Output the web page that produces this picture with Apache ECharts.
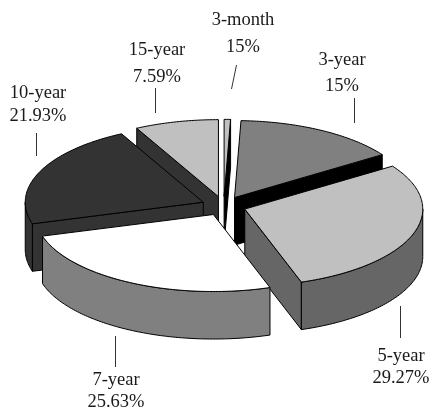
<!DOCTYPE html>
<html>

<head>
    <meta charset="utf-8">
    <script type="text/javascript" src="https://cdn.jsdelivr.net/npm/echarts@6/dist/echarts.min.js"></script>
    <title>Maturity pie</title>
    <style>
        html, body { margin: 0; padding: 0; background: #fff; }
    </style>
</head>

<body>
    <div id="container" style="width:429px;height:409px;"></div>
    <script type="text/javascript">
    // clockwise from 12 o'clock
    var categories = ['3-month', '3-year', '5-year', '7-year', '10-year', '15-year'];
    var shares = [0.58, 15, 29.27, 25.63, 21.93, 7.59];
    // printed labels, the 3-month one really says 15% in the source
    var percentLabels = ['15%', '15%', '29.27%', '25.63%', '21.93%', '7.59%'];

    var topColors = ['#c0c0c0', '#808080', '#c0c0c0', '#ffffff', '#333333', '#c0c0c0'];
    var rimColors = ['#000000', '#000000', '#666666', '#808080', '#333333', '#333333'];
    // back to front
    var drawOrder = [5, 0, 1, 4, 2, 3];

    // pie geometry in pixels
    var cx = 223.7, cy = 206, rx = 178, ry = 77, depth = 47.5, explodeX = 0.125, explodeY = 0.125;

    // label placement: [x, name y, percent y], leader: [x1, y1, x2, y2]
    var labelPos = [[243, 20, 47], [342, 60, 86], [401, 356, 378], [116, 380, 402], [38, 93, 116], [157, 50, 77]];
    var leaders = [[236, 65, 231, 89], [354, 98, 354, 123], [400, 306, 400, 338], [115, 336, 115, 367], [36, 133, 36, 156], [155, 88, 155, 113]];

    var total = shares.reduce(function (a, b) { return a + b; }, 0);
    var sliceAngles = [];
    var running = 90;
    shares.forEach(function (s) {
        var next = running - s / total * 360;
        sliceAngles.push([running, next]);
        running = next;
    });

    function pt(ox, oy, deg, dz) {
        var r = deg * Math.PI / 180;
        return [ox + rx * Math.cos(r), oy - ry * Math.sin(r) + (dz || 0)];
    }

    function arc(ox, oy, from, to, dz) {
        var pts = [];
        var n = Math.max(2, Math.ceil(Math.abs(from - to)));
        for (var i = 0; i <= n; i++) {
            pts.push(pt(ox, oy, from + (to - from) * i / n, dz));
        }
        return pts;
    }

    function face(points, fill) {
        return {
            type: 'polygon',
            shape: { points: points },
            style: { fill: fill, stroke: '#000', lineWidth: 1, lineJoin: 'round' }
        };
    }

    function renderSlice(params, api) {
        var idx = api.value(0);
        var a0 = sliceAngles[idx][0], a1 = sliceAngles[idx][1];
        var mid = (a0 + a1) / 2 * Math.PI / 180;
        var ox = cx + explodeX * rx * Math.cos(mid);
        var oy = cy - explodeY * ry * Math.sin(mid);
        var children = [];

        // cut faces that look toward the viewer
        [[a0, Math.cos(a0 * Math.PI / 180) < -1e-6], [a1, Math.cos(a1 * Math.PI / 180) > 1e-6]].forEach(function (c) {
            if (!c[1]) return;
            var p = pt(ox, oy, c[0]);
            var q = pt(ox, oy, c[0], depth);
            children.push(face([[ox, oy], p, q, [ox, oy + depth]], rimColors[idx]));
        });

        // outer rim, only the front half shows
        var lo = Math.max(a1, -180), hi = Math.min(a0, 0);
        if (lo < hi) {
            var rim = arc(ox, oy, hi, lo, 0).concat(arc(ox, oy, lo, hi, depth));
            children.push(face(rim, rimColors[idx]));
        }

        children.push(face([[ox, oy]].concat(arc(ox, oy, a0, a1, 0)), topColors[idx]));

        return { type: 'group', children: children };
    }

    var graphics = [];
    categories.forEach(function (name, i) {
        var font = '18.5px "Liberation Serif", "Times New Roman", serif';
        graphics.push({
            type: 'text', silent: true,
            style: { x: labelPos[i][0], y: labelPos[i][1], text: name, font: font, fill: '#1a1a1a', align: 'center', verticalAlign: 'middle' }
        });
        graphics.push({
            type: 'text', silent: true,
            style: { x: labelPos[i][0], y: labelPos[i][2], text: percentLabels[i], font: font, fill: '#1a1a1a', align: 'center', verticalAlign: 'middle' }
        });
        graphics.push({
            type: 'line', silent: true,
            shape: { x1: leaders[i][0] + 0.5, y1: leaders[i][1], x2: leaders[i][2] + 0.5, y2: leaders[i][3] },
            style: { stroke: '#333', lineWidth: 1 }
        });
    });

    var myChart = echarts.init(document.getElementById('container'), null, { renderer: 'canvas' });

    var option = {
        backgroundColor: '#fff',
        animation: false,
        tooltip: { show: false },
        graphic: graphics,
        series: [{
            type: 'custom',
            coordinateSystem: 'none',
            silent: true,
            renderItem: renderSlice,
            data: drawOrder.map(function (i) { return [i]; })
        }]
    };

    myChart.setOption(option);
    </script>
</body>

</html>
